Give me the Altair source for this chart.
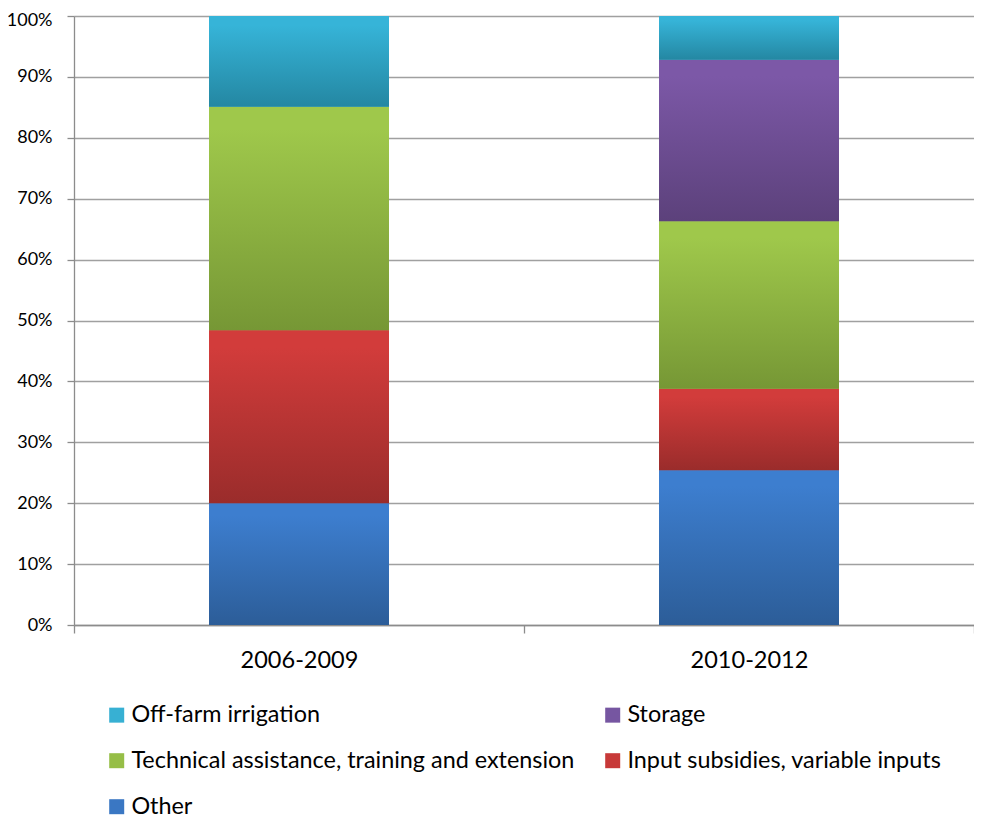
import altair as alt
import pandas as pd

periods = ["2006-2009", "2010-2012"]
# stacking order, bottom to top
categories = [
    "Other",
    "Input subsidies, variable inputs",
    "Technical assistance, training and extension",
    "Storage",
    "Off-farm irrigation",
]
other = [0.200, 0.254]
input_subsidies = [0.284, 0.134]
technical = [0.367, 0.275]
storage = [0.0, 0.265]
off_farm = [0.149, 0.072]
series_values = [other, input_subsidies, technical, storage, off_farm]

# legend is filled column by column
legend_order = [
    "Off-farm irrigation",
    "Technical assistance, training and extension",
    "Other",
    "Storage",
    "Input subsidies, variable inputs",
]
top_colors = ["#3D7ECF", "#D23C3B", "#9FC84B", "#7C58A7", "#36B4D8"]
bottom_colors = ["#2C5D98", "#9A2C2B", "#769735", "#5C417B", "#2487A2"]
mid_colors = ["#3A77C3", "#C73938", "#96BE47", "#7656A1", "#37B0D3"]
legend_colors = [mid_colors[categories.index(c)] for c in legend_order]

rows = []
for ci, cat in enumerate(categories):
    for pi, p in enumerate(periods):
        rows.append({"period": p, "category": cat, "order": ci, "value": series_values[ci][pi]})
df = pd.DataFrame(rows)

FONT = "Lato"

base = alt.Chart(df).transform_stack(
    stack="value", groupby=["period"], sort=[alt.SortField("order", order="ascending")], as_=["y0", "y1"]
)

x_enc = alt.X(
    "period:N",
    sort=periods,
    scale=alt.Scale(paddingInner=0, paddingOuter=0),
    axis=alt.Axis(
        title=None, labelAngle=0, tickBand="extent", tickSize=8, labelPadding=15,
        labelFontSize=23.5, grid=False,
    ),
)
y_enc = alt.Y(
    "y0:Q",
    scale=alt.Scale(domain=[0, 1]),
    axis=alt.Axis(
        title=None, format=".0%", values=[i / 10 for i in range(11)], tickSize=7,
        labelPadding=15, labelFontSize=18, grid=True,
        labelOffset=alt.ExprRef("datum.value == 1 ? 4 : 0"),
    ),
)

BAR_W = alt.RelativeBandSize(0.4)

flat = base.mark_bar(width=BAR_W).encode(
    x=x_enc,
    y=y_enc,
    y2="y1:Q",
    color=alt.Color(
        "category:N",
        scale=alt.Scale(domain=legend_order, range=legend_colors),
        legend=alt.Legend(
            title=None, orient="none", legendX=31, legendY=687, columns=2,
            symbolType="square", symbolSize=225, symbolStrokeWidth=0, symbolOpacity=1,
            labelFont=FONT, labelFontSize=23.4, labelColor="#000000", labelLimit=700,
            columnPadding=26, rowPadding=21, labelOffset=3, padding=0,
        ),
    ),
)

layers = [flat]
for ci, cat in enumerate(categories):
    grad = alt.Gradient(
        gradient="linear",
        stops=[
            alt.GradientStop(color=top_colors[ci], offset=0),
            alt.GradientStop(color=top_colors[ci], offset=0.1),
            alt.GradientStop(color=bottom_colors[ci], offset=1),
        ],
        x1=0, x2=0, y1=0, y2=1,
    )
    layers.append(
        base.transform_filter(alt.datum.category == cat)
        .mark_bar(color=grad, width=BAR_W)
        .encode(x=x_enc, y=y_enc, y2="y1:Q")
    )

chart = (
    alt.layer(*layers)
    .properties(
        width=900,
        height=609,
        autosize=alt.AutoSizeParams(type="none"),
        padding={"left": 66, "top": 8, "right": 0, "bottom": 200},
    )
    .configure_view(stroke=None)
    .configure_axis(
        labelFont=FONT, labelColor="#000000", domainColor="#8C8C8C", tickColor="#8C8C8C",
        gridColor="#A0A0A0", gridWidth=1.3, domainWidth=1.3, tickWidth=1.3,
    )
)

chart.save("out.html", embed_options={"renderer": "svg", "actions": False})
